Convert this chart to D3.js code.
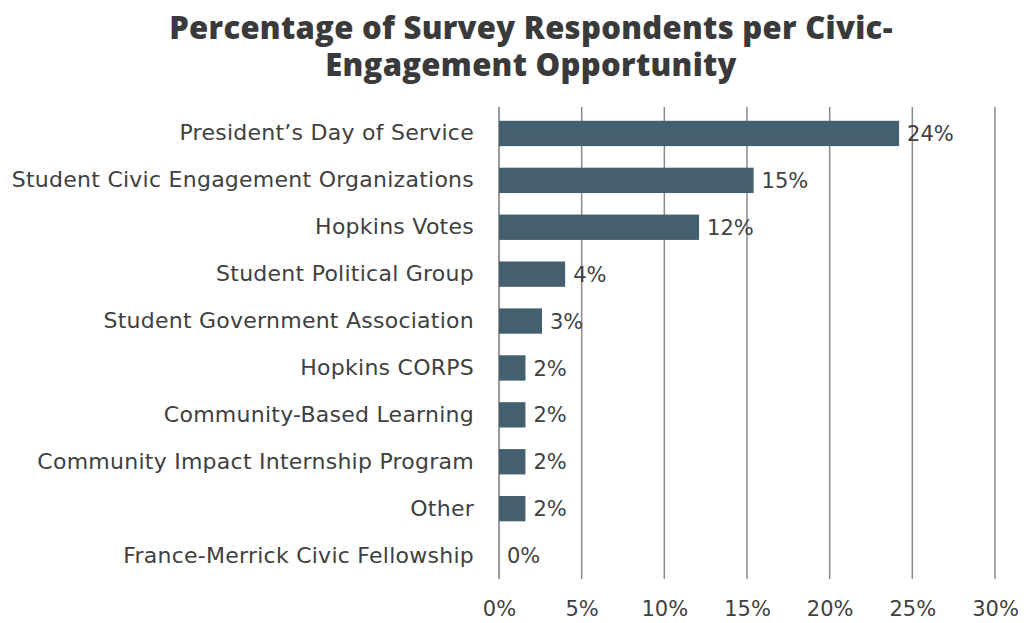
<!DOCTYPE html>
<html>
<head>
<meta charset="utf-8">
<script src="https://cdn.jsdelivr.net/npm/d3@7"></script>
<style>
  body { margin: 0; background: #fff; }
  text { font-family: "DejaVu Sans", sans-serif; fill: #404040; }
</style>
</head>
<body>
<div id="chart"></div>
<script>
const titleLines = ["Percentage of Survey Respondents per Civic-", "Engagement Opportunity"];

const categories = [
  "President\u2019s Day of Service",
  "Student Civic Engagement Organizations",
  "Hopkins Votes",
  "Student Political Group",
  "Student Government Association",
  "Hopkins CORPS",
  "Community-Based Learning",
  "Community Impact Internship Program",
  "Other",
  "France-Merrick Civic Fellowship",
];

const values = [24.2, 15.4, 12.1, 4.0, 2.6, 1.6, 1.6, 1.6, 1.6, 0];

const tickValues = [0, 5, 10, 15, 20, 25, 30];

const width = 1026, height = 623;
const margin = { top: 107, right: 31, bottom: 44, left: 499 };

const svg = d3.select("#chart")
  .append("svg")
  .attr("width", width)
  .attr("height", height);

// title
svg.append("g")
  .selectAll("text")
  .data(titleLines)
  .join("text")
  .attr("x", 531)
  .attr("y", (d, i) => 39 + i * 37)
  .attr("text-anchor", "middle")
  .style("font-family", "'Open Sans', sans-serif")
  .style("font-weight", 800)
  .style("font-size", "31px")
  .style("letter-spacing", "0.3px")
  .style("fill", "#3a3a3a")
  .text((d) => d);

const x = d3.scaleLinear()
  .domain([0, 30])
  .range([margin.left, width - margin.right]);

const y = d3.scaleBand()
  .domain(categories)
  .range([margin.top + 3, height - margin.bottom])
  .paddingInner(0.46)
  .paddingOuter(0.23);

// gridlines
svg.append("g")
  .selectAll("line")
  .data(tickValues)
  .join("line")
  .attr("x1", (d) => x(d))
  .attr("x2", (d) => x(d))
  .attr("y1", margin.top)
  .attr("y2", height - margin.bottom)
  .attr("stroke", (d) => (d === 0 ? "#777" : "#8a8a8a"))
  .attr("stroke-width", 1.5);

// bars
const data = categories.map((c, i) => ({ name: c, value: values[i] }));

svg.append("g")
  .selectAll("rect")
  .data(data)
  .join("rect")
  .attr("x", x(0))
  .attr("y", (d) => y(d.name))
  .attr("width", (d) => x(d.value) - x(0))
  .attr("height", y.bandwidth())
  .attr("fill", "#44606e");

// value labels
svg.append("g")
  .selectAll("text")
  .data(data)
  .join("text")
  .attr("x", (d) => x(d.value) + 8)
  .attr("y", (d) => y(d.name) + y.bandwidth() / 2)
  .attr("dy", "0.36em")
  .style("font-size", "21px")
  .text((d) => Math.round(d.value) + "%");

// category labels
const yAxis = svg.append("g")
  .attr("transform", `translate(${margin.left},0)`)
  .call(d3.axisLeft(y).tickSize(0).tickPadding(25));
yAxis.select(".domain").remove();
yAxis.selectAll("text")
  .style("font-size", "22px")
  .style("letter-spacing", "0.25px")
  .style("font-family", "'DejaVu Sans', sans-serif")
  .attr("fill", "#404040");

// x tick labels
const xAxis = svg.append("g")
  .attr("transform", `translate(0,${height - margin.bottom})`)
  .call(d3.axisBottom(x).tickValues(tickValues).tickSize(0).tickPadding(22).tickFormat((d) => d + "%"));
xAxis.select(".domain").remove();
xAxis.selectAll("text")
  .style("font-size", "21px")
  .style("font-family", "'DejaVu Sans', sans-serif")
  .attr("fill", "#404040");
</script>
</body>
</html>
